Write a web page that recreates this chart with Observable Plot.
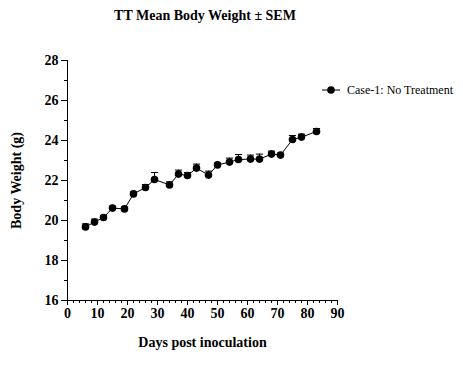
<!DOCTYPE html>
<html>
<head>
<meta charset="utf-8">
<script src="https://cdn.jsdelivr.net/npm/d3@7"></script>
<script src="https://cdn.jsdelivr.net/npm/@observablehq/plot@0.6"></script>
<style>
  html, body { margin: 0; padding: 0; background: #fff; }
  #wrap { position: relative; width: 463px; height: 377px; font-family: "Liberation Serif", "Times New Roman", serif; }
  #title { position: absolute; top: 8px; left: 0; width: 410px; text-align: center; font-weight: bold; font-size: 14px; color: #000; }
  #legend { position: absolute; top: 82px; left: 321px; display: flex; align-items: center; font-size: 12px; color: #000; }
  #legend span { margin-left: 6px; }
</style>
</head>
<body>
<div id="wrap">
  <div id="title">TT Mean Body Weight ± SEM</div>
  <div id="legend"><svg width="20" height="16"><line x1="1" x2="19" y1="8" y2="8" stroke="#000" stroke-width="1"/><circle cx="10" cy="8" r="3.8" fill="#000"/></svg><span>Case-1: No Treatment</span></div>
</div>
<script>
const days = [6, 9, 12, 15, 19, 22, 26, 29, 34, 37, 40, 43, 47, 50, 54, 57, 61, 64, 68, 71, 75, 78, 83];
const weights = [19.68, 19.92, 20.15, 20.62, 20.58, 21.33, 21.65, 22.05, 21.78, 22.32, 22.25, 22.62, 22.27, 22.78, 22.92, 23.05, 23.07, 23.07, 23.32, 23.27, 24.05, 24.17, 24.45];
const sems = [0.15, 0.15, 0.1, 0.1, 0.1, 0.1, 0.15, 0.35, 0.15, 0.2, 0.15, 0.2, 0.2, 0.1, 0.2, 0.25, 0.2, 0.25, 0.15, 0.1, 0.2, 0.15, 0.15];
const xTicks = [0, 10, 20, 30, 40, 50, 60, 70, 80, 90];
const yTicks = [16, 18, 20, 22, 24, 26, 28];

const data = days.map((d, i) => ({day: d, w: weights[i], sem: sems[i]}));

const chart = Plot.plot({
  width: 463,
  height: 377,
  marginLeft: 67,
  marginRight: 126,
  marginTop: 60,
  marginBottom: 77,
  style: {fontFamily: "'Liberation Serif', 'Times New Roman', serif", fontSize: "14px", fontWeight: "bold", color: "#000", background: "transparent"},
  x: {domain: [0, 90]},
  y: {domain: [16, 28]},
  marks: [
    Plot.axisX({ticks: d3.range(0, 91, 2), tickSize: 3, text: null, label: null}),
    Plot.axisX({ticks: xTicks, tickSize: 5, tickPadding: 3, tickFormat: d3.format("d"), label: "Days post inoculation", labelAnchor: "center", labelOffset: 46, labelArrow: "none"}),
    Plot.axisY({ticks: d3.range(16, 29, 1), tickSize: 3, text: null, label: null}),
    Plot.axisY({ticks: yTicks, tickSize: 6, tickPadding: 3, tickFormat: d3.format("d"), label: "Body Weight (g)", labelAnchor: "center", labelOffset: 56, labelArrow: "none"}),
    Plot.ruleX([0], {y1: 16, y2: 28, stroke: "#000"}),
    Plot.ruleY([16], {x1: 0, x2: 90, stroke: "#000"}),
    Plot.ruleX(data, {x: "day", y1: "w", y2: d => d.w + d.sem, stroke: "#000", strokeWidth: 1}),
    Plot.link(data, {x1: d => d.day - 1.2, x2: d => d.day + 1.2, y1: d => d.w + d.sem, y2: d => d.w + d.sem, stroke: "#000", strokeWidth: 1}),
    Plot.line(data, {x: "day", y: "w", stroke: "#000", strokeWidth: 1}),
    Plot.dot(data, {x: "day", y: "w", r: 3.8, fill: "#000", stroke: "none"})
  ]
});
chart.style.position = "absolute";
chart.style.left = "0";
chart.style.top = "0";
document.getElementById("wrap").prepend(chart);
</script>
</body>
</html>
